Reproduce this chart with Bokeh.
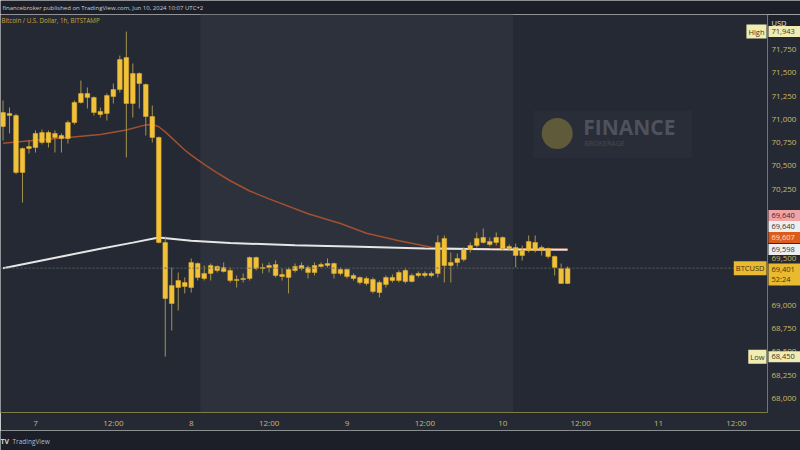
import pandas as pd
from bokeh.plotting import figure
from bokeh.models import Range1d, BoxAnnotation, Label, Span, FixedTicker, NumeralTickFormatter
from bokeh.layouts import column, row
from bokeh.embed import file_html
from bokeh.resources import INLINE
from bokeh.core.properties import value

# ---------------- data (BTC/USD, 1h, Bitstamp) ----------------
start_time = "2024-06-06 19:00"
opens = [70923, 71062, 71041, 70429, 70686, 70697, 70858, 70751, 70848, 70794,
         70794, 70966, 71181, 71277, 71234, 71084, 71062, 71245, 71320, 71664,
         71170, 71492, 71374, 71030, 70805, 69677, 69021, 69193, 69247, 69193,
         69451, 69290, 69344, 69419, 69365, 69376, 69268, 69279, 69290, 69515,
         69397, 69408, 69440, 69333, 69301, 69376, 69429, 69408, 69354, 69419,
         69429, 69451, 69344, 69387, 69322, 69301, 69290, 69279, 69139, 69225,
         69301, 69268, 69258, 69322, 69322, 69344, 69322, 69344, 69720, 69429,
         69462, 69494, 69601, 69644, 69730, 69687, 69677, 69730, 69612, 69623,
         69537, 69591, 69677, 69591, 69612, 69526, 69397, 69236]
highs = [71202, 71127, 71060, 70697, 70772, 70880, 70890, 70880, 70880, 70848,
         70987, 71202, 71417, 71342, 71245, 71127, 71277, 71385, 71685, 71943,
         71600, 71503, 71385, 71148, 70815, 69741, 69408, 69354, 69301, 69505,
         69462, 69429, 69451, 69429, 69462, 69408, 69322, 69344, 69526, 69526,
         69451, 69462, 69483, 69397, 69408, 69451, 69462, 69429, 69462, 69462,
         69505, 69462, 69408, 69397, 69344, 69311, 69311, 69301, 69268, 69322,
         69333, 69376, 69397, 69344, 69365, 69365, 69365, 69752, 69752, 69569,
         69558, 69623, 69677, 69784, 69827, 69730, 69784, 69741, 69655, 69666,
         69644, 69752, 69752, 69644, 69623, 69537, 69451, 69420]
lows = [70772, 70848, 70410, 70106, 70633, 70643, 70730, 70697, 70643, 70643,
        70740, 70945, 71170, 71116, 71041, 71019, 70987, 71170, 71288, 70590,
        71019, 71116, 70826, 70751, 69666, 68450, 68731, 68946, 69129, 69139,
        69268, 69268, 69268, 69354, 69354, 69247, 69193, 69247, 69268, 69376,
        69344, 69354, 69301, 69268, 69129, 69354, 69376, 69290, 69322, 69408,
        69408, 69290, 69322, 69290, 69268, 69225, 69215, 69129, 69086, 69193,
        69247, 69247, 69236, 69247, 69301, 69301, 69301, 69301, 69247, 69247,
        69419, 69472, 69569, 69623, 69666, 69634, 69644, 69591, 69591, 69408,
        69483, 69569, 69569, 69537, 69505, 69322, 69236, 69230]
closes = [71073, 71041, 70429, 70686, 70708, 70848, 70751, 70858, 70805, 70826,
          70966, 71181, 71277, 71234, 71073, 71052, 71256, 71320, 71643, 71170,
          71492, 71385, 71030, 70805, 69677, 69075, 69215, 69268, 69204, 69462,
          69301, 69344, 69429, 69376, 69408, 69268, 69279, 69290, 69515, 69397,
          69408, 69429, 69322, 69311, 69387, 69419, 69397, 69354, 69429, 69440,
          69451, 69344, 69387, 69311, 69290, 69247, 69236, 69150, 69247, 69301,
          69268, 69354, 69376, 69258, 69344, 69322, 69344, 69677, 69429, 69462,
          69505, 69601, 69644, 69720, 69677, 69655, 69730, 69612, 69634, 69537,
          69591, 69687, 69591, 69623, 69526, 69408, 69236, 69401]

# moving averages (hours since Jun 7 00:00)
ema_hours = [-5, 0, 5, 10, 14, 17, 18, 19, 20, 21, 22, 23, 24, 26, 28, 30, 33, 36,
             42, 47, 51, 56, 61, 67, 72, 82]
ema_values = [70743, 70775, 70805, 70837, 70885, 70940, 70945, 70920, 70865, 70800,
              70735, 70670, 70615, 70515, 70425, 70340, 70230, 70145,
              69985, 69880, 69775, 69695, 69625, 69610, 69608, 69607]
sma_hours = [-5, 0, 5, 10, 15, 19, 24, 30, 40, 50, 60, 70, 82]
sma_values = [69400, 69470, 69540, 69610, 69675, 69730, 69695, 69670, 69648, 69630, 69612, 69603, 69598]

x_tick_hours = [0, 12, 24, 36, 48, 60, 72, 84, 96, 108]
x_tick_labels = ["7", "12:00", "8", "12:00", "9", "12:00", "10", "12:00", "11", "12:00"]
y_ticks = [68000, 68250, 68500, 68750, 69000, 69250, 69500, 69750, 70000,
           70250, 70500, 70750, 71000, 71250, 71500, 71750, 72000]

high_value = 71943
low_value = 68450
last_price = 69401
countdown = "52:24"
stack_labels = ["69,640", "69,640", "69,607", "69,598"]

times = pd.date_range(start_time, periods=len(opens), freq="h")
hours = ((times - pd.Timestamp("2024-06-07")) / pd.Timedelta(hours=1)).tolist()
tops = [max(o, c) for o, c in zip(opens, closes)]
bottoms = [min(o, c) for o, c in zip(opens, closes)]

# ---------------- styling ----------------
BG = "#252934"
SHADE = "#2d313c"
DARK = "#1c1f27"
GOLD_TXT = "#cdb866"
AXIS_LINE = "#7f7848"
FONT = "Open Sans"
W = 800
AXW = 33
HDR_H = 14
MAIN_H = 416
FTR_H = 20
BOT = 18
YR = Range1d(67850, 72126)

# ---------------- header ----------------
hdr = figure(width=W, height=HDR_H, output_backend="svg", toolbar_location=None,
             x_range=Range1d(0, W), y_range=Range1d(0, HDR_H),
             min_border=0, background_fill_color=DARK, border_fill_color=DARK, outline_line_color=None)
hdr.axis.visible = False
hdr.grid.visible = False
hdr.text(x=[2], y=[7], text=["financebroker published on TradingView.com, Jun 10, 2024 10:07 UTC+2"],
         text_font=value(FONT), text_font_size="6px", text_color="#c9ccd3", text_baseline="middle")

# ---------------- main chart ----------------
p = figure(width=W, height=MAIN_H, output_backend="svg", toolbar_location=None,
           x_range=Range1d(-5.39, 112.8), y_range=YR,
           y_axis_location="right",
           min_border_left=0, min_border_top=0, min_border_right=AXW, min_border_bottom=BOT,
           background_fill_color=BG, border_fill_color=BG, outline_line_color=None)
p.grid.visible = False

p.add_layout(BoxAnnotation(left=25.4, right=73.6, fill_color=SHADE, fill_alpha=1,
                           line_alpha=0, level="underlay"))

# watermark
p.quad(left=[76.7], right=[101.2], top=[71095], bottom=[70579], fill_color="#292d38",
       line_color=None)
p.scatter(x=[80.4], y=[70848], size=31, marker="circle", fill_color="#5f5a3a", line_color=None)
p.text(x=[84.4], y=[70920], text=["FINANCE"], text_font=value(FONT), text_font_style="bold",
       text_font_size="21px", text_color="#4d525e", text_baseline="middle")
p.text(x=[84.6], y=[70735], text=["BROKERAGE"], text_font=value(FONT),
       text_font_size="7px", text_color="#474b55", text_baseline="middle")

# last price line
p.add_layout(Span(location=last_price, dimension="width", line_color="#5c605f",
                  line_dash="2 2", line_width=1))

# moving averages
p.line(ema_hours, ema_values, line_color="#a3502f", line_width=1.5)
p.line(sma_hours, sma_values, line_color="#e6e6e6", line_width=2)

# candles
p.segment(x0=hours, y0=highs, x1=hours, y1=lows, line_color="#a3954f", line_width=1)
p.vbar(x=hours, width=0.72, top=tops, bottom=bottoms, fill_color="#f2c13a",
       line_color="#e0ae2c", line_width=0.5)

# legend text
p.add_layout(Label(x=-5.25, y=72060, text="Bitcoin / U.S. Dollar, 1h, BITSTAMP",
                   text_font=FONT, text_font_size="6.2px", text_color="#c9a83c",
                   text_baseline="middle"))

# axes
p.yaxis.ticker = FixedTicker(ticks=y_ticks)
p.yaxis.formatter = NumeralTickFormatter(format="0,0")
p.xaxis.ticker = FixedTicker(ticks=x_tick_hours)
p.xaxis.major_label_overrides = dict(zip(x_tick_hours, x_tick_labels))
for ax in (p.xaxis, p.yaxis):
    ax.major_label_text_color = GOLD_TXT
    ax.major_label_text_font = FONT
    ax.major_label_text_font_size = "8px"
    ax.major_tick_line_color = None
    ax.minor_tick_line_color = None
    ax.major_tick_out = 0
    ax.major_tick_in = 0
    ax.minor_tick_out = 0
    ax.axis_line_color = AXIS_LINE
p.yaxis.major_label_standoff = 4
p.xaxis.major_label_standoff = 4

# tags inside the frame, left of the price scale
def inner_tag(yv, txt, bg, fg):
    p.add_layout(Label(x=112.65, y=yv, text=txt, text_font=FONT, text_font_size="7.5px",
                       text_color=fg, text_align="right", text_baseline="middle",
                       background_fill_color=bg, background_fill_alpha=1, padding=2))

inner_tag(high_value, "High", "#f1ecb2", "#3a3a2a")
inner_tag(last_price, "BTCUSD", "#e9b92f", "#3f3110")
inner_tag(low_value, "Low", "#f1ecb2", "#3a3a2a")

# ---------------- price-tag overlay on the price scale ----------------
tg = figure(width=AXW, height=MAIN_H, output_backend="svg", toolbar_location=None,
            x_range=Range1d(0, AXW), y_range=YR,
            min_border_left=0, min_border_right=0, min_border_top=0, min_border_bottom=BOT,
            background_fill_alpha=0, border_fill_alpha=0, outline_line_color=None,
            margin=(0, 0, 0, -AXW))
tg.axis.visible = False
tg.grid.visible = False

tag_y = [72040, high_value, 69967, 69849, 69730, 69601, 69333, low_value]
tag_h = [16, 11, 11, 11, 11, 11, 22, 11]
tag_bg = ["#1e222c", "#f1ecb2", "#f2a3a6", "#eeeeee", "#dc5a1c", "#eeeeee", "#e9b92f", "#f1ecb2"]
tg.rect(x=[AXW / 2 + 0.5] * len(tag_y), y=tag_y, width=AXW - 1, height=tag_h,
        height_units="screen", fill_color=tag_bg, line_color=None)

txt_y = [72040, high_value, 69967, 69849, 69730, 69601, 69387, 69279, low_value]
txt = ["USD", f"{high_value:,}", stack_labels[0], stack_labels[1], stack_labels[2],
       stack_labels[3], f"{last_price:,}", countdown, f"{low_value:,}"]
txt_col = ["#e0e0e0", "#3a3a2a", "#3a2a2a", "#333333", "#fbe2c6", "#333333",
           "#3f3110", "#3f3110", "#3a3a2a"]
tg.text(x=[4] * len(txt), y=txt_y, text=txt, text_color=txt_col, text_font=value(FONT),
        text_font_size="7.5px", text_baseline="middle")

# ---------------- footer ----------------
ftr = figure(width=W, height=FTR_H, output_backend="svg", toolbar_location=None,
             x_range=Range1d(0, W), y_range=Range1d(0, FTR_H),
             min_border=0, background_fill_color=DARK, border_fill_color=DARK, outline_line_color=None)
ftr.axis.visible = False
ftr.grid.visible = False
ftr.text(x=[0], y=[9], text=["TV"], text_font=value(FONT), text_font_style="bold",
         text_font_size="7px", text_color="#d0d2d8", text_baseline="middle")
ftr.text(x=[12], y=[9], text=["TradingView"], text_font=value(FONT),
         text_font_size="6.5px", text_color="#b8bbc2", text_baseline="middle")

layout = column(hdr, row(p, tg, spacing=0), ftr, spacing=0)
open("out.html", "w").write(file_html(layout, INLINE))
